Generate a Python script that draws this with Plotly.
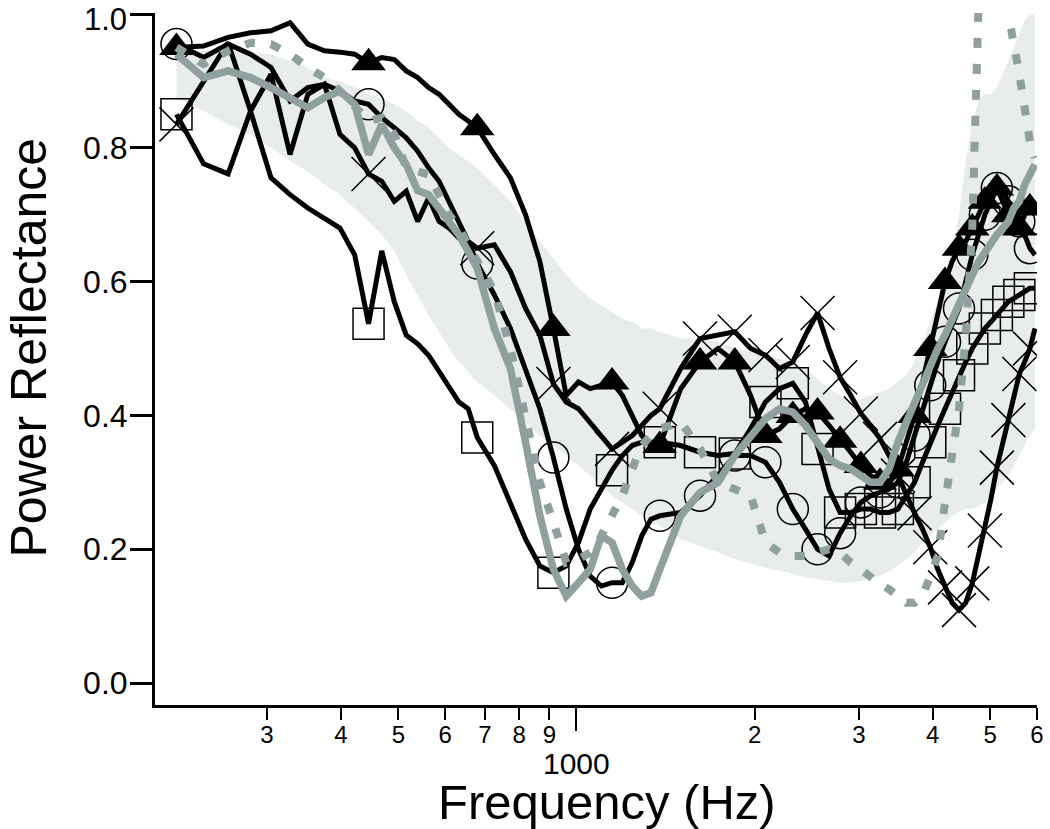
import math
import plotly.graph_objects as go

# ---------------- data ----------------
freq_hz = [210.9, 234.4, 257.8, 281.3, 304.7, 328.1, 351.6, 375.0, 398.4, 421.9,
           445.3, 468.8, 492.2, 515.6, 539.1, 562.5, 585.9, 609.4, 632.8, 656.3,
           679.7, 726.6, 773.4, 820.3, 867.2, 914.1, 960.9, 1007.8, 1054.7, 1101.6,
           1148.4, 1195.3, 1242.2, 1289.1, 1335.9, 1382.8, 1500.0, 1617.2, 1734.4, 1851.6,
           1968.8, 2085.9, 2203.1, 2320.3, 2437.5, 2554.7, 2671.9, 2789.1, 2906.3, 3023.4,
           3140.6, 3257.8, 3375.0, 3492.2, 3609.4, 3726.6, 3843.8, 3960.9, 4078.1, 4195.3,
           4312.5, 4429.7, 4546.9, 4664.1, 4781.3, 4898.4, 5015.6, 5132.8, 5250.0, 5367.2,
           5484.4, 5601.6, 5718.8, 5835.9, 5953.1]

ear_triangle = [0.95, 0.952, 0.965, 0.972, 0.975, 0.987, 0.955, 0.945, 0.943, 0.94,
                0.927, 0.935, 0.932, 0.915, 0.905, 0.89, 0.88, 0.865, 0.85, 0.84,
                0.83, 0.79, 0.755, 0.70, 0.63, 0.53, 0.43, 0.45, 0.44, 0.445,
                0.45, 0.43, 0.40, 0.37, 0.355, 0.355, 0.44, 0.48, 0.50, 0.48,
                0.43, 0.37, 0.38, 0.40, 0.41, 0.405, 0.385, 0.363, 0.345, 0.325,
                0.31, 0.30, 0.30, 0.32, 0.36, 0.40, 0.45, 0.50, 0.55, 0.60,
                0.63, 0.65, 0.66, 0.68, 0.70, 0.72, 0.73, 0.74, 0.72, 0.70,
                0.69, 0.68, 0.70, 0.71, 0.70]

ear_circle = [0.955, 0.935, 0.955, 0.94, 0.92, 0.87, 0.89, 0.895, 0.885, 0.87,
              0.865, 0.845, 0.83, 0.815, 0.795, 0.77, 0.75, 0.72, 0.69, 0.66,
              0.627, 0.58, 0.53, 0.47, 0.41, 0.337, 0.26, 0.20, 0.16, 0.145,
              0.15, 0.15, 0.18, 0.22, 0.245, 0.25, 0.255, 0.28, 0.31, 0.34,
              0.34, 0.33, 0.30, 0.26, 0.23, 0.20, 0.19, 0.224, 0.25, 0.27,
              0.28, 0.285, 0.29, 0.30, 0.33, 0.37, 0.41, 0.445, 0.48, 0.51,
              0.535, 0.56, 0.60, 0.64, 0.67, 0.70, 0.72, 0.74, 0.735, 0.72,
              0.71, 0.69, 0.67, 0.65, 0.64]

ear_square = [0.85, 0.776, 0.761, 0.855, 0.755, 0.73, 0.71, 0.695, 0.68, 0.64,
              0.537, 0.646, 0.57, 0.52, 0.507, 0.49, 0.465, 0.44, 0.42, 0.41,
              0.367, 0.325, 0.27, 0.215, 0.175, 0.165, 0.175, 0.21, 0.26, 0.29,
              0.318, 0.34, 0.355, 0.36, 0.36, 0.36, 0.355, 0.345, 0.34, 0.343,
              0.38, 0.42, 0.44, 0.448, 0.42, 0.35, 0.29, 0.255, 0.255, 0.26,
              0.26, 0.255, 0.255, 0.26, 0.28, 0.30, 0.33, 0.36, 0.385, 0.41,
              0.435, 0.46, 0.48, 0.50, 0.515, 0.53, 0.54, 0.55, 0.56, 0.57,
              0.575, 0.58, 0.585, 0.59, 0.59]

ear_cross = [0.835, 0.90, 0.957, 0.855, 0.91, 0.79, 0.88, 0.895, 0.82, 0.80,
             0.761, 0.75, 0.72, 0.735, 0.69, 0.725, 0.69, 0.68, 0.665, 0.66,
             0.65, 0.655, 0.615, 0.56, 0.52, 0.447, 0.42, 0.41, 0.39, 0.37,
             0.35, 0.36, 0.37, 0.385, 0.40, 0.41, 0.47, 0.515, 0.52, 0.525,
             0.50, 0.49, 0.47, 0.48, 0.52, 0.553, 0.50, 0.457, 0.43, 0.403,
             0.385, 0.365, 0.34, 0.31, 0.28, 0.254, 0.23, 0.203, 0.17, 0.143,
             0.12, 0.109, 0.12, 0.149, 0.19, 0.228, 0.275, 0.322, 0.36, 0.393,
             0.43, 0.462, 0.48, 0.50, 0.53]

group_mean = [0.94, 0.905, 0.915, 0.905, 0.89, 0.875, 0.86, 0.875, 0.885, 0.865,
              0.79, 0.835, 0.80, 0.775, 0.736, 0.73, 0.71, 0.69, 0.67, 0.645,
              0.62, 0.53, 0.47, 0.36, 0.25, 0.17, 0.13, 0.15, 0.17, 0.22,
              0.21, 0.17, 0.145, 0.13, 0.135, 0.17, 0.25, 0.285, 0.30, 0.34,
              0.37, 0.395, 0.41, 0.405, 0.385, 0.36, 0.335, 0.325, 0.32, 0.31,
              0.30, 0.30, 0.32, 0.36, 0.39, 0.42, 0.45, 0.48, 0.50, 0.52,
              0.545, 0.57, 0.59, 0.61, 0.63, 0.645, 0.66, 0.67, 0.68, 0.69,
              0.71, 0.72, 0.745, 0.76, 0.775]

dashed_curve = [0.95, 0.925, 0.945, 0.957, 0.955, 0.94, 0.92, 0.905, 0.885, 0.86,
                0.84, 0.845, 0.82, 0.77, 0.765, 0.76, 0.73, 0.70, 0.68, 0.655,
                0.63, 0.585, 0.50, 0.40, 0.30, 0.24, 0.18, 0.185, 0.195, 0.22,
                0.25, 0.28, 0.32, 0.355, 0.37, 0.38, 0.39, 0.35, 0.30, 0.29,
                0.28, 0.21, 0.195, 0.19, 0.19, 0.195, 0.20, 0.195, 0.18, 0.17,
                0.158, 0.148, 0.14, 0.13, 0.12, 0.12, 0.13, 0.16, 0.19, 0.27,
                0.34, 0.41, 0.52, 0.68, 1.02, 1.2, 1.25, 1.25, 1.15, 1.0,
                0.96, 0.91, 0.86, 0.81, 0.785]

band_upper = [0.945, 0.945, 0.945, 0.943, 0.94, 0.93, 0.92, 0.905, 0.90, 0.89,
              0.88, 0.875, 0.865, 0.855, 0.84, 0.83, 0.815, 0.80, 0.79, 0.78,
              0.77, 0.745, 0.72, 0.69, 0.66, 0.635, 0.61, 0.59, 0.575, 0.565,
              0.555, 0.545, 0.54, 0.53, 0.53, 0.525, 0.515, 0.515, 0.51, 0.50,
              0.495, 0.49, 0.485, 0.48, 0.47, 0.455, 0.44, 0.43, 0.42, 0.425,
              0.43, 0.435, 0.44, 0.45, 0.46, 0.48, 0.51, 0.54, 0.57, 0.60,
              0.65, 0.70, 0.78, 0.84, 0.87, 0.88, 0.88, 0.89, 0.91, 0.93,
              0.95, 0.97, 0.99, 1.0, 1.0]

band_lower = [0.875, 0.855, 0.835, 0.82, 0.80, 0.78, 0.765, 0.745, 0.73, 0.71,
              0.69, 0.67, 0.645, 0.61, 0.58, 0.55, 0.525, 0.50, 0.48, 0.465,
              0.45, 0.43, 0.41, 0.39, 0.37, 0.355, 0.34, 0.325, 0.31, 0.295,
              0.28, 0.27, 0.26, 0.25, 0.24, 0.235, 0.215, 0.205, 0.195, 0.185,
              0.178, 0.172, 0.168, 0.163, 0.158, 0.155, 0.152, 0.15, 0.15, 0.152,
              0.156, 0.16, 0.167, 0.175, 0.185, 0.195, 0.21, 0.22, 0.23, 0.24,
              0.25, 0.255, 0.26, 0.26, 0.265, 0.27, 0.28, 0.29, 0.30, 0.31,
              0.325, 0.34, 0.355, 0.37, 0.38]

x_tick_values = [300, 400, 500, 600, 700, 800, 900, 2000, 3000, 4000, 5000, 6000]
x_tick_labels = ["3", "4", "5", "6", "7", "8", "9", "2", "3", "4", "5", "6"]
y_tick_values = [0.0, 0.2, 0.4, 0.6, 0.8, 1.0]
# the top label "1.0" is placed as an annotation so that it stays inside the page
y_tick_labels = ["0.0", "0.2", "0.4", "0.6", "0.8", ""]
y_top_label = "1.0"

# ---------------- styling ----------------
FONT = "Liberation Sans, Arial, sans-serif"
GREY = "rgb(143,160,158)"
BAND = "rgb(232,237,235)"
MARK_START, MARK_STEP = 210.9, 234.375
PLOT_H = 829 - 13 - 124


def marker_points(values):
    xs, ys = [], []
    for f, v in zip(freq_hz, values):
        k = (f - MARK_START) / MARK_STEP
        if abs(k - round(k)) < 0.02:
            xs.append(f)
            ys.append(v)
    return xs, ys


fig = go.Figure()

fig.add_trace(go.Scatter(x=freq_hz, y=band_lower, mode="lines",
                         line=dict(width=0, color=BAND), hoverinfo="skip",
                         showlegend=False))
fig.add_trace(go.Scatter(x=freq_hz, y=band_upper, mode="lines", fill="tonexty",
                         fillcolor=BAND, line=dict(width=0, color=BAND),
                         hoverinfo="skip", showlegend=False))

series = [
    (ear_triangle, dict(symbol="triangle-up", size=30, color="black")),
    (ear_circle, dict(symbol="circle-open", size=31, color="black",
                      line=dict(width=1.5, color="black"))),
    (ear_square, dict(symbol="square-open", size=31, color="black",
                      line=dict(width=1.5, color="black"))),
    (ear_cross, dict(symbol="x-thin-open", size=34, color="black",
                     line=dict(width=1.5, color="black"))),
]
for vals, mk in series:
    fig.add_trace(go.Scatter(x=freq_hz, y=vals, mode="lines",
                             line=dict(color="black", width=5),
                             showlegend=False))
    mx, my = marker_points(vals)
    fig.add_trace(go.Scatter(x=mx, y=my, mode="markers", marker=mk,
                             showlegend=False))

fig.add_trace(go.Scatter(x=freq_hz, y=dashed_curve, mode="lines",
                         line=dict(color=GREY, width=8, dash="10px,16px"),
                         showlegend=False))
fig.add_trace(go.Scatter(x=freq_hz, y=group_mean, mode="lines",
                         line=dict(color=GREY, width=7.5),
                         showlegend=False))

fig.update_layout(
    width=1050, height=829,
    margin=dict(l=155, r=13, t=13, b=124, autoexpand=False),
    plot_bgcolor="white", paper_bgcolor="white",
    showlegend=False,
    font=dict(family=FONT, color="black"),
    xaxis=dict(type="log", range=[math.log10(194), math.log10(6000)],
               automargin=False,
               showline=True, linecolor="black", linewidth=3,
               ticks="outside", ticklen=12, tickwidth=2, tickcolor="black",
               tickmode="array", tickvals=x_tick_values, ticktext=x_tick_labels,
               tickfont=dict(size=24, family=FONT, color="black"),
               ticklabelstandoff=-6, ticklabeloverflow="allow",
               showgrid=False, zeroline=False,
               minor=dict(tickmode="array", tickvals=[1000], ticks="outside",
                          ticklen=23, tickwidth=2, tickcolor="black",
                          showgrid=False)),
    yaxis=dict(range=[-0.0328, 1.0015], automargin=False,
               showline=True, linecolor="black",
               linewidth=3, ticks="outside", ticklen=22, tickwidth=3,
               tickcolor="black", tickmode="array", tickvals=y_tick_values,
               ticktext=y_tick_labels,
               tickfont=dict(size=32, family=FONT, color="black"),
               ticklabelstandoff=-4, ticklabeloverflow="allow",
               showgrid=False, zeroline=False),
    annotations=[
        dict(text=y_top_label, x=-0.0295, xref="paper",
             y=1 + 13 / PLOT_H, yref="paper", showarrow=False,
             xanchor="right", yanchor="top",
             font=dict(size=31, family=FONT, color="black")),
        dict(text="1000", x=3, xref="x", y=-0.085, yref="paper",
             showarrow=False, xanchor="center", yanchor="middle",
             font=dict(size=30, family=FONT, color="black")),
        dict(text="Frequency (Hz)", x=0.5125, xref="paper", y=-0.1405,
             yref="paper", showarrow=False, xanchor="center",
             yanchor="middle", font=dict(size=49, family=FONT, color="black")),
        dict(text="Power Reflectance", x=-0.1425, xref="paper", y=0.517,
             yref="paper", showarrow=False, textangle=-90, xanchor="center",
             yanchor="middle", font=dict(size=50, family=FONT, color="black")),
    ],
)

fig.write_html(
    "out.html",
    config={"displayModeBar": False},
    post_script="document.body.style.margin='0px';"
                "document.body.style.overflow='hidden';",
)
